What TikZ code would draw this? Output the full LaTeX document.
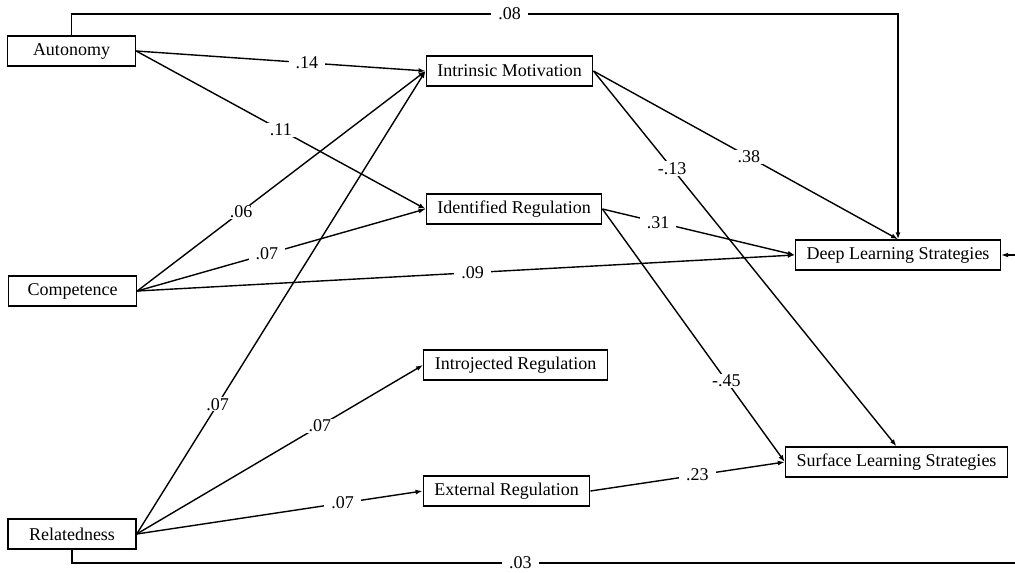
\documentclass[tikz,border=0pt]{standalone}
\usepackage{fontspec}
\setmainfont{Liberation Serif}
\usepackage{tikz}
\usetikzlibrary{arrows.meta,calc}

\tikzset{
  box/.style={draw,line width=1.4pt,minimum height=30pt,inner xsep=11pt,inner ysep=2pt,font=\fontsize{18}{22}\selectfont},
  lbox/.style={box,minimum width=128pt},
  link/.style={line width=1.4pt,-{Latex[length=7pt,width=5pt]}},
  lbl/.style={fill=white,inner xsep=7pt,inner ysep=1pt,font=\fontsize{18}{22}\selectfont}
}

\begin{document}
\begin{tikzpicture}[x=1pt,y=-1pt]
\useasboundingbox (0,0) rectangle (1015,573);

% Basic needs
\node[lbox] (aut) at (71.5,51) {Autonomy};
\node[lbox] (comp) at (72.5,291) {Competence};
\node[lbox] (rel) at (72,534) {Relatedness};

% Motivation types
\node[box] (intr) at (509.5,71) {Intrinsic Motivation};
\node[box] (iden) at (514,209) {Identified Regulation};
\node[box] (intro) at (515.5,365) {Introjected Regulation};
\node[box] (ext) at (506.5,491) {External Regulation};

% Outcomes
\node[box] (deep) at (898,255) {Deep Learning Strategies};
\node[box] (surf) at (896.5,462) {Surface Learning Strategies};

% Direct paths around the outside
\coordinate (topR) at (0,14);
\coordinate (botR) at (1030,563);
\draw[link] (aut.north) |- (deep.north |- topR) node[lbl,pos=0.765] {.08} -- (deep.north);
\draw[link] (rel.south) |- (botR) node[lbl,pos=0.734] {.03} -- (botR |- deep.east) -- (deep.east);

% Autonomy
\draw[link] (aut.east) -- (intr.west) node[lbl,pos=0.59] {.14};
\draw[link] (aut.east) -- (iden.west) node[lbl,pos=0.5] {.11};

% Competence
\draw[link] (comp.east) -- (intr.west) node[lbl,pos=0.36] {.06};
\draw[link] (comp.east) -- (iden.west) node[lbl,pos=0.45] {.07};
\draw[link] (comp.east) -- (deep.west) node[lbl,pos=0.51] {.09};

% Relatedness
\draw[link] (rel.east) -- (intr.west) node[lbl,pos=0.28] {.07};
\draw[link] (rel.east) -- (intro.west) node[lbl,pos=0.64] {.07};
\draw[link] (rel.east) -- (ext.west) node[lbl,pos=0.72] {.07};

% Motivation to strategies
\draw[link] (intr.east) -- (deep.north) node[lbl,pos=0.51] {.38};
\draw[link] (intr.east) -- (surf.north) node[lbl,pos=0.26] {-.13};
\draw[link] (iden.east) -- (deep.west) node[lbl,pos=0.29] {.31};
\draw[link] (iden.east) -- (surf.west) node[lbl,pos=0.68] {-.45};
\draw[link] (ext.east) -- (surf.west) node[lbl,pos=0.55] {.23};
\end{tikzpicture}
\end{document}
